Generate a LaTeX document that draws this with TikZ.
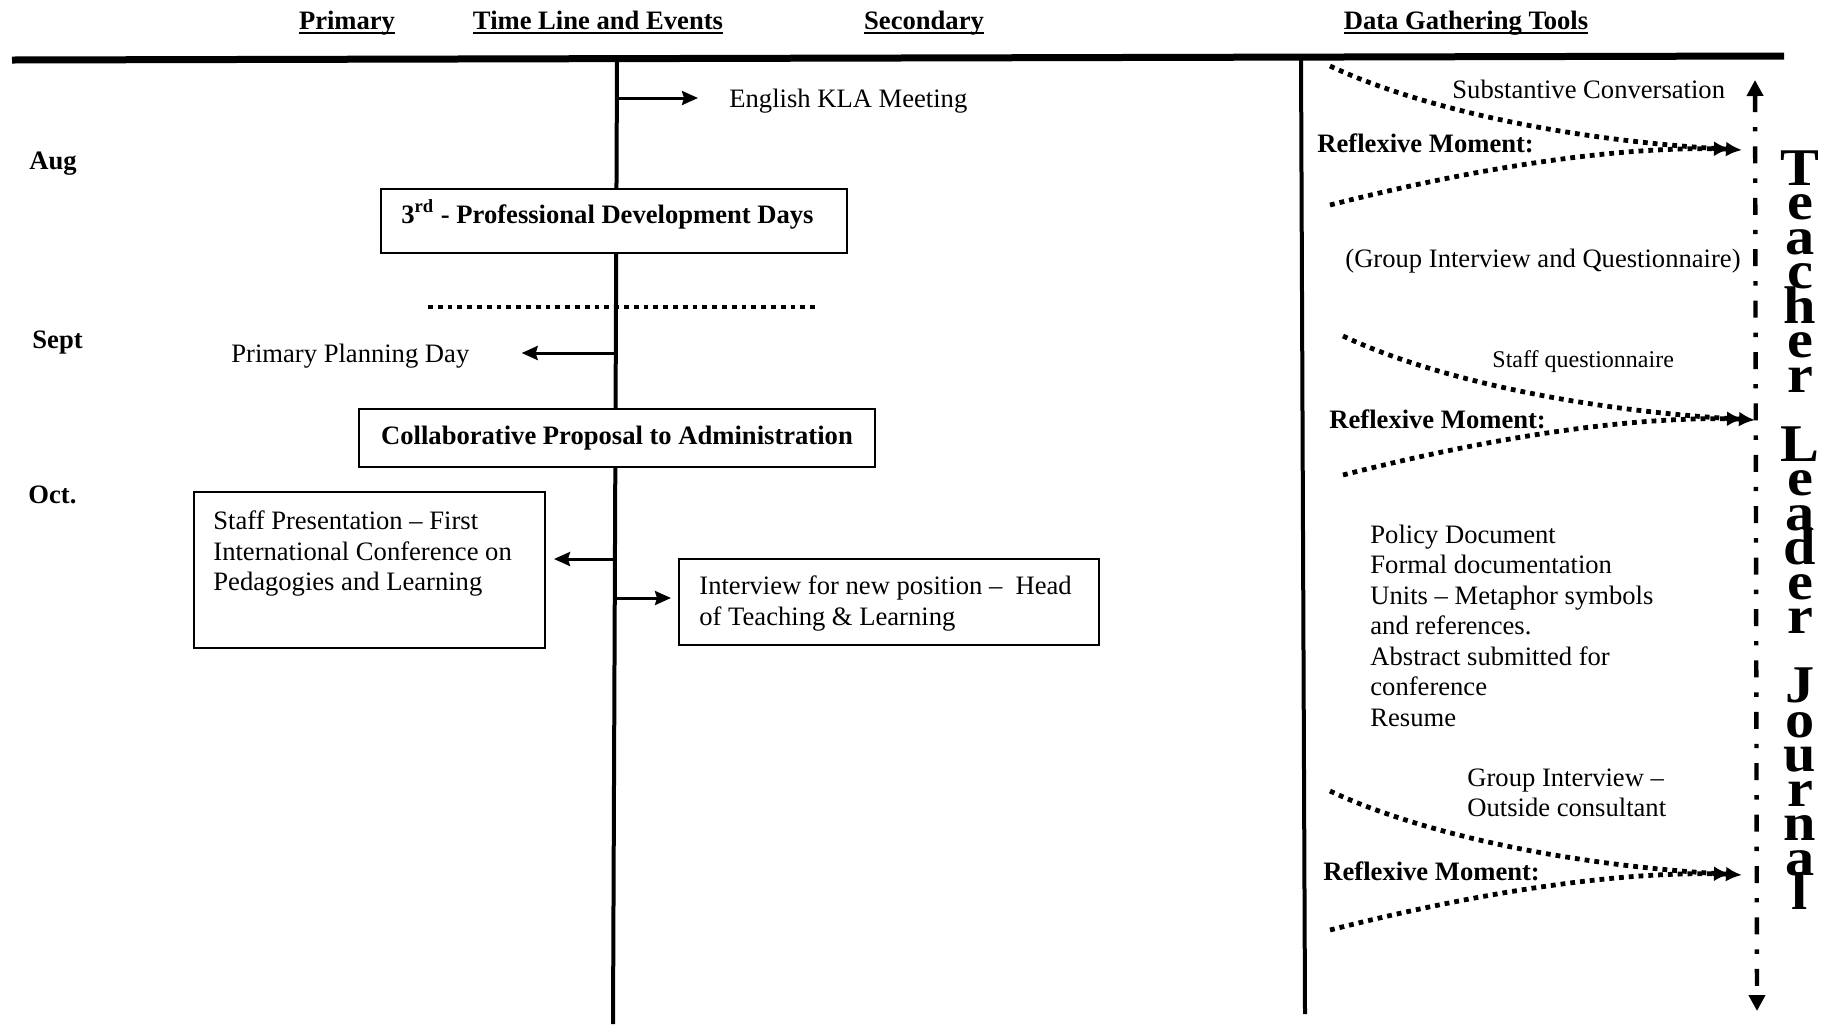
\documentclass[tikz,border=0pt]{standalone}
\usepackage{fontspec}
\setmainfont{Liberation Serif}
\newfontfamily\titlefont[FakeStretch=1.1]{Liberation Serif}
\usetikzlibrary{arrows.meta}
% heading underline at a fixed distance below the baseline
\newcommand{\hdul}[1]{\setbox0=\hbox{#1}\rlap{\rule[-2.4pt]{\wd0}{0.9pt}}\box0}

\begin{document}
% lines keep their set baseline distance even when letters come close
\lineskiplimit=-\maxdimen
\begin{tikzpicture}[x=0.5pt, y=-0.5pt,
  txt/.style={inner sep=0pt, font=\fontsize{13.3}{15.25}\selectfont},
  btxt/.style={inner sep=0pt, font=\fontsize{13.3}{15.25}\selectfont\bfseries},
  smalltxt/.style={inner sep=0pt, font=\fontsize{12}{14}\selectfont},
  evbox/.style={draw, line width=1pt, fill=white, inner sep=0pt},
  evarrow/.style={line width=1.5pt, -{Stealth[length=8pt, width=7pt, inset=1pt]}},
  dotline/.style={line width=2.4pt, dash pattern=on 2.4pt off 2.5pt},
  flowarrow/.style={dotline, -{Latex[length=8pt, width=7.5pt]}},
  journalline/.style={line width=2.2pt, dash pattern=on 8.5pt off 7.5pt on 2.2pt off 7.5pt,
    {Triangle[length=8pt, width=8pt]}-{Triangle[length=8pt, width=8pt]}},
  topbar/.style={line width=3.5pt},
  mainaxis/.style={line width=2pt},
  titlestack/.style={inner sep=0pt, align=center,
    font=\fontsize{26.5}{17.25}\titlefont\bfseries},
]
\useasboundingbox (0,0) rectangle (1839,1024);

% ---- column headings ----
\node[btxt, anchor=base] (h-prim) at (347,29) {\hdul{Primary}};
\node[btxt, anchor=base] (h-time) at (598,29) {\hdul{Time Line and Events}};
\node[btxt, anchor=base] (h-sec)  at (924,29) {\hdul{Secondary}};
\node[btxt, anchor=base] (h-data) at (1466,29) {\hdul{Data Gathering Tools}};

% ---- frame lines ----
\coordinate (bar-l) at (12,60);
\coordinate (bar-r) at (1784,56);
\draw[topbar] (bar-l) -- (bar-r);

\coordinate (tl-top) at (617,60);
\coordinate (tl-bot) at (613,1024);
\draw[mainaxis] (tl-top) -- (tl-bot);

\coordinate (dg-top) at (1301,58);
\coordinate (dg-bot) at (1305,1014);
\draw[mainaxis] (dg-top) -- (dg-bot);

% ---- months ----
\node[btxt, anchor=base west] (m-aug)  at (29,169) {Aug};
\node[btxt, anchor=base west] (m-sept) at (32,348) {Sept};
\node[btxt, anchor=base west] (m-oct)  at (28,503) {Oct.};

% ---- time line events ----
\node[txt, anchor=base west] (kla) at (729,107) {English KLA Meeting};
\coordinate (t-kla) at (616.8,98);
\draw[evarrow, shorten >=15.5pt] (t-kla) -- (kla.west |- t-kla);

\node[evbox, anchor=north west, minimum width=233pt, minimum height=32pt] (pdd) at (380,188) {};
\node[btxt, anchor=base west] (pdd-txt) at (401,223) {3\textsuperscript{rd} - Professional Development Days};

\coordinate (sep-l) at (428,307);
\coordinate (sep-r) at (815,307);
\draw[dotline] (sep-l) -- (sep-r);

\node[txt, anchor=base west] (ppd) at (231,362) {Primary Planning Day};
\coordinate (t-ppd) at (615.8,353);
\draw[evarrow, shorten >=26pt] (t-ppd) -- (ppd.east |- t-ppd);

\node[evbox, btxt, draw, fill=white, minimum width=258pt, minimum height=29pt] (collab) at (617,438)
  {Collaborative Proposal to Administration};

\node[evbox, anchor=north west, minimum width=175.5pt, minimum height=78pt] (staff) at (193,491) {};
\node[txt, anchor=north west, align=left] (staff-txt) at (213,510.6)
  {Staff Presentation – First\\International Conference on\\Pedagogies and Learning};
\coordinate (t-staff) at (614.9,559);
\draw[evarrow, shorten >=4pt] (t-staff) -- (staff.east |- t-staff);

\node[evbox, anchor=north west, minimum width=210pt, minimum height=43pt] (intv) at (678,558) {};
\node[txt, anchor=north west, align=left] (intv-txt) at (699,575.6)
  {Interview for new position –\ \ Head\\of Teaching \& Learning};
\coordinate (t-intv) at (614.8,598);
\draw[evarrow, shorten >=3.5pt] (t-intv) -- (intv.west |- t-intv);

% ---- data gathering tools ----
\node[txt, anchor=base west] (subst) at (1452,98) {Substantive Conversation};
\node[txt, anchor=base west] (grpq) at (1345,267) {(Group Interview and Questionnaire)};
\node[smalltxt, anchor=base west] (staffq) at (1492,367) {Staff questionnaire};
\node[txt, anchor=north west, align=left] (docs) at (1370,524.2)
  {Policy Document\\Formal documentation\\Units – Metaphor symbols\\and references.\\Abstract submitted for\\conference\\Resume};
\node[txt, anchor=north west, align=left] (grpi) at (1467,768.2)
  {Group Interview –\\Outside consultant};

\node[btxt, anchor=base west] (rm-1) at (1317,152) {Reflexive Moment:};
\node[btxt, anchor=base west] (rm-2) at (1329,428) {Reflexive Moment:};
\node[btxt, anchor=base west] (rm-3) at (1323,880) {Reflexive Moment:};

% converging dotted flows into the journal
\foreach \i/\dx/\dy in {1/0/0, 2/13/270, 3/0/725} {
  \begin{scope}[shift={(\dx,\dy)}]
    \coordinate (fa-\i) at (1330,66);
    \coordinate (fb-\i) at (1330,205);
    \coordinate (ta-\i) at (1742,150);
    \coordinate (tb-\i) at (1730,149);
    \draw[flowarrow] (fa-\i) .. controls (1415,106) and (1560,140) .. (ta-\i);
    \draw[flowarrow] (fb-\i) .. controls (1460,172) and (1600,147) .. (tb-\i);
  \end{scope}
}

% journal line
\coordinate (j-top) at (1755,80);
\coordinate (j-bot) at (1757,1011);
\draw[journalline] (j-top) -- (j-bot);

% vertical title, one letter per line
\node[titlestack, anchor=north] (tlj) at (1800,150)
  {T\\e\\a\\c\\h\\e\\r\\[17.25pt]L\\e\\a\\d\\e\\r\\[17.25pt]J\\o\\u\\r\\n\\a\\l};
\end{tikzpicture}
\end{document}
